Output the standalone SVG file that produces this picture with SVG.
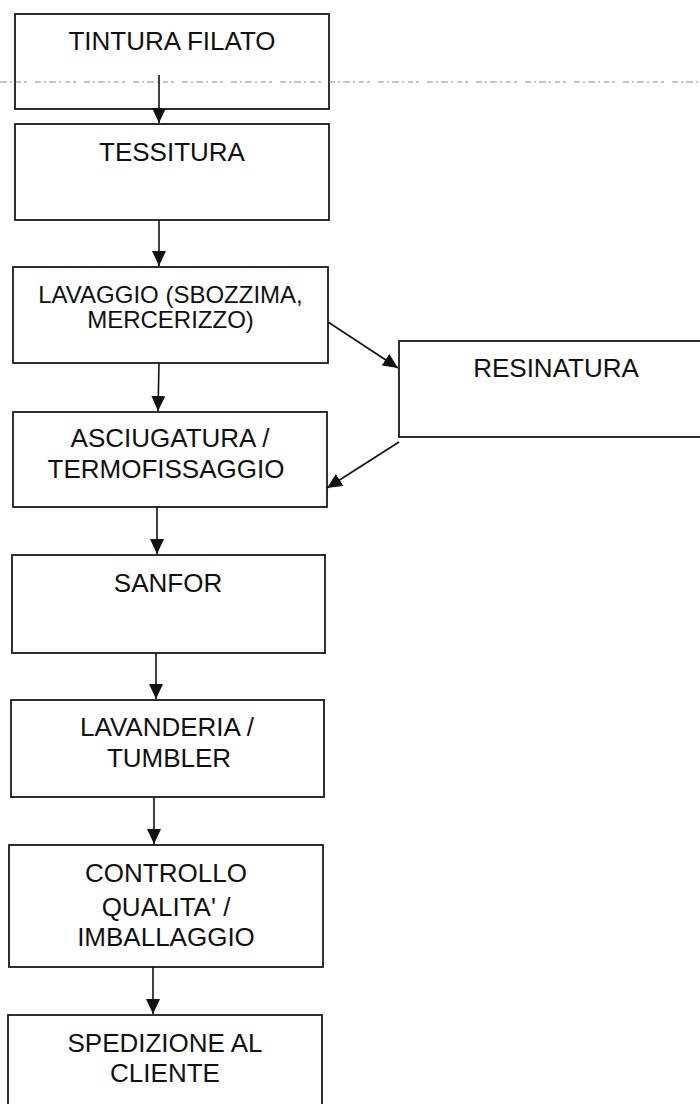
<svg xmlns="http://www.w3.org/2000/svg" width="700" height="1104" viewBox="0 0 700 1104">
<style>
.box{fill:#fff;stroke:#1a1a1a;stroke-width:1.8}
.t{font-family:"Liberation Sans",Arial,sans-serif;font-size:26px;fill:#111;text-anchor:middle}
.s{font-size:24px}
.c{stroke:#111;stroke-width:1.6;fill:none;marker-end:url(#ah)}
</style>
<defs>
<marker id="ah" markerUnits="userSpaceOnUse" markerWidth="16" markerHeight="16" refX="15" refY="7" orient="auto">
<path d="M0,0 L15,7 L0,14 Z" fill="#111"/>
</marker>
</defs>
<rect width="700" height="1104" fill="#fff"/>
<g id="n1"><rect class="box" x="15" y="14" width="314" height="95"/><text class="t" x="172" y="50">TINTURA FILATO</text></g>
<line x1="0" y1="82" x2="700" y2="82" stroke="#8a8a8a" stroke-width="1" stroke-dasharray="7 3 2 4 5 3 3 8 6 3 2 3"/>
<g id="n2"><rect class="box" x="15" y="124" width="314" height="96"/><text class="t" x="172" y="161">TESSITURA</text></g>
<g id="n3"><rect class="box" x="13" y="267" width="315" height="96"/><text class="t s" x="170.5" y="303">LAVAGGIO (SBOZZIMA,</text><text class="t s" x="170.5" y="328">MERCERIZZO)</text></g>
<g id="n4"><rect class="box" x="399" y="341" width="315" height="96"/><text class="t" x="556" y="377">RESINATURA</text></g>
<g id="n5"><rect class="box" x="13" y="412" width="314" height="95"/><text class="t" x="170" y="447">ASCIUGATURA /</text><text class="t" x="166" y="478">TERMOFISSAGGIO</text></g>
<g id="n6"><rect class="box" x="12" y="555" width="313" height="98"/><text class="t" x="168" y="592">SANFOR</text></g>
<g id="n7"><rect class="box" x="11" y="700" width="313" height="97"/><text class="t" x="167" y="736">LAVANDERIA /</text><text class="t" x="169" y="767">TUMBLER</text></g>
<g id="n8"><rect class="box" x="9" y="845" width="314" height="122"/><text class="t" x="166" y="882">CONTROLLO</text><text class="t" x="166" y="916">QUALITA' /</text><text class="t" x="166" y="946">IMBALLAGGIO</text></g>
<g id="n9"><rect class="box" x="8" y="1015" width="314" height="100"/><text class="t" x="165" y="1052">SPEDIZIONE AL</text><text class="t" x="165" y="1082">CLIENTE</text></g>
<g id="connectors">
<line class="c" x1="159" y1="75" x2="159" y2="123"/>
<line class="c" x1="159" y1="220" x2="159" y2="266"/>
<line class="c" x1="159" y1="363" x2="158" y2="411"/>
<line class="c" x1="157" y1="507" x2="157" y2="554"/>
<line class="c" x1="156" y1="653" x2="156" y2="699"/>
<line class="c" x1="154" y1="797" x2="154" y2="844"/>
<line class="c" x1="153" y1="967" x2="153" y2="1014"/>
<line class="c" x1="328" y1="322" x2="398" y2="368"/>
<line class="c" x1="399" y1="442" x2="327" y2="488"/>
</g>
</svg>
